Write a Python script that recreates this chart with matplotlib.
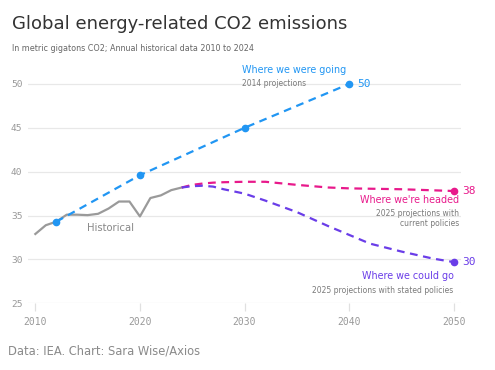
import matplotlib.pyplot as plt

# historical data (gigatons CO2)
hist_years = list(range(2010, 2025))
hist_vals = [32.9, 33.9, 34.3, 35.1, 35.1, 35.05, 35.2, 35.8, 36.6, 36.6, 34.9, 37.0, 37.3, 37.9, 38.2]

# 2014 projections
proj14_years = [2012, 2020, 2030, 2040]
proj14_vals = [34.3, 39.6, 45.0, 50.0]

# 2025 projections, current policies
cur_years = [2024, 2025, 2026, 2027, 2028, 2030, 2032, 2035, 2038, 2040, 2045, 2050]
cur_vals = [38.2, 38.5, 38.65, 38.75, 38.8, 38.85, 38.85, 38.5, 38.2, 38.1, 38.0, 37.8]

# 2025 projections, stated policies
sta_years = [2024, 2025, 2026, 2027, 2028, 2030, 2032, 2035, 2038, 2040, 2042, 2045, 2048, 2050]
sta_vals = [38.2, 38.35, 38.4, 38.3, 38.0, 37.5, 36.7, 35.4, 33.8, 32.8, 31.8, 30.9, 30.1, 29.7]

xticks = [2010, 2020, 2030, 2040, 2050]
yticks = [25, 30, 35, 40, 45, 50]

BLUE = '#2196F3'
PINK = '#E8198B'
PURPLE = '#6A3DE8'
GRAY = '#9a9a9a'
TXT = '#7a7a7a'

fig = plt.figure(figsize=(4.95, 3.70), dpi=100)
ax = fig.add_axes([0.0566, 0.1803, 0.8747, 0.6046])
ax.set_xlim(2009.3, 2050.7)
ax.set_ylim(25, 50.5)

for y in yticks:
    ax.axhline(y, color='#e8e8e8', lw=0.9, zorder=0)

ax.plot(hist_years, hist_vals, color=GRAY, lw=1.6, zorder=2)
ax.plot(proj14_years, proj14_vals, color=BLUE, lw=1.6, ls=(0, (3.5, 2.5)), zorder=3)
ax.plot(proj14_years, proj14_vals, 'o', color=BLUE, ms=4.5, zorder=4)
ax.plot(cur_years, cur_vals, color=PINK, lw=1.6, ls=(0, (3.5, 2.5)), zorder=3)
ax.plot(cur_years[-1], cur_vals[-1], 'o', color=PINK, ms=4.5, zorder=4)
ax.plot(sta_years, sta_vals, color=PURPLE, lw=1.6, ls=(0, (3.5, 2.5)), zorder=3)
ax.plot(sta_years[-1], sta_vals[-1], 'o', color=PURPLE, ms=4.5, zorder=4)

for s in ax.spines.values():
    s.set_visible(False)
ax.set_xticks(xticks)
ax.set_xticklabels([str(x) for x in xticks], family='DejaVu Sans Mono', fontsize=7, color='#999999')
ax.set_yticks(yticks)
ax.set_yticklabels([str(y) for y in yticks], family='DejaVu Sans Mono', fontsize=6.8, color='#999999')
ax.tick_params(axis='x', length=6, color='#e0e0e0', width=0.9, pad=4)
ax.tick_params(axis='y', length=0, pad=4)

# end labels
ax.text(2040.8, 50.0, '50', color=BLUE, family='DejaVu Sans Mono', fontsize=8, va='center', ha='left')
ax.text(2050.8, 37.8, '38', color=PINK, family='DejaVu Sans Mono', fontsize=8, va='center', ha='left')
ax.text(2050.8, 29.7, '30', color=PURPLE, family='DejaVu Sans Mono', fontsize=8, va='center', ha='left')

# annotations
ax.text(2029.8, 51.55, 'Where we were going', color=BLUE, fontsize=6.9, va='center', ha='left')
ax.text(2029.8, 50.0, '2014 projections', color=TXT, fontsize=5.5, va='center', ha='left')
ax.text(2050.5, 36.75, "Where we're headed", color=PINK, fontsize=6.9, va='center', ha='right')
ax.text(2050.5, 35.25, '2025 projections with', color=TXT, fontsize=5.5, va='center', ha='right')
ax.text(2050.5, 34.1, 'current policies', color=TXT, fontsize=5.5, va='center', ha='right')
ax.text(2050.0, 28.1, 'Where we could go', color=PURPLE, fontsize=6.9, va='center', ha='right')
ax.text(2050.0, 26.5, '2025 projections with stated policies', color=TXT, fontsize=5.5, va='center', ha='right')
ax.text(2017.2, 33.6, 'Historical', color='#888888', fontsize=7.2, va='center', ha='center')

fig.text(0.024, 0.935, 'Global energy-related CO2 emissions', fontsize=13, color='#333333', va='center', ha='left')
fig.text(0.024, 0.868, 'In metric gigatons CO2; Annual historical data 2010 to 2024', fontsize=5.8, color='#666666', va='center', ha='left')
fig.text(0.016, 0.052, 'Data: IEA. Chart: Sara Wise/Axios', fontsize=8.3, color='#8a8a8a', va='center', ha='left')

fig.savefig('out.png', dpi=100)
